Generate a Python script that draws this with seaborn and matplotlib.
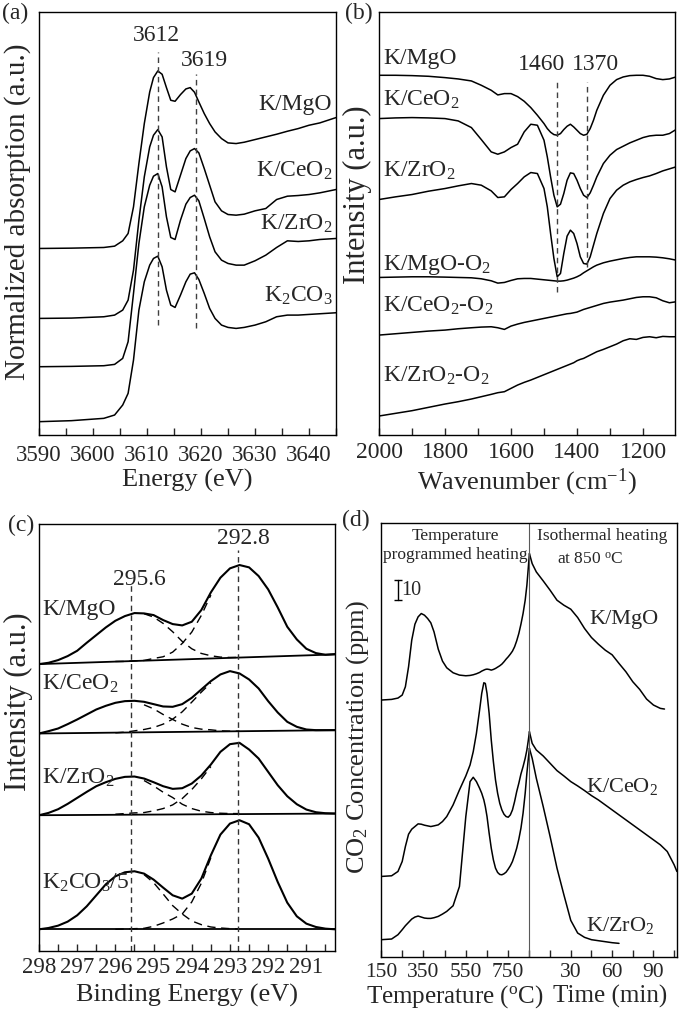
import matplotlib
matplotlib.use('Agg')
import matplotlib.pyplot as plt
import seaborn as sns
from matplotlib.ticker import MultipleLocator, FixedLocator, FixedFormatter

# ---------------- (a) K K-edge XANES ----------------
energy_a = [3590, 3596, 3602, 3604, 3605.5, 3606.5, 3607.5, 3608.5, 3609.5, 3610.5, 3611.2, 3612,
            3612.8, 3613.6, 3614.4, 3615.2, 3616.2, 3617.2, 3618, 3618.8, 3619.6, 3620.6, 3621.6, 3622.6,
            3623.8, 3625, 3626.5, 3628, 3630, 3632, 3634, 3636, 3638, 3640, 3642, 3645]
xanes_mgo = [560, 561, 563, 567, 583, 605, 685, 815, 935, 1030, 1073, 1093, 1083, 1043, 1005, 1002, 1022, 1039,
             1043, 1029, 1000, 965, 935, 910, 890, 877, 875, 879, 887, 895, 903, 912, 920, 930, 937, 953]
xanes_ceo2 = [350, 351, 355, 360, 375, 405, 495, 645, 775, 865, 900, 917, 895, 805, 737, 730, 780, 830,
              853, 860, 847, 800, 750, 700, 673, 662, 660, 663, 673, 680, 707, 717, 719, 722, 727, 737]
xanes_zro2 = [205, 206, 208, 212, 230, 280, 425, 575, 685, 750, 777, 785, 745, 655, 593, 587, 645, 693,
              713, 720, 703, 650, 595, 550, 525, 515, 510, 510, 523, 540, 563, 583, 581, 583, 587, 590]
xanes_k2co3 = [40, 43, 50, 60, 90, 125, 225, 375, 460, 510, 530, 537, 505, 435, 390, 383, 420, 460,
               483, 487, 467, 425, 380, 350, 330, 323, 320, 323, 330, 340, 355, 360, 360, 362, 364, 367]
peaks_a = [3612, 3619]

# ---------------- (b) DRIFTS ----------------
wavenumber_b = [2000, 1950, 1900, 1850, 1800, 1760, 1720, 1690, 1660, 1640, 1620, 1600, 1580, 1560, 1540,
                1520, 1500, 1490, 1480, 1470, 1460, 1450, 1440, 1430, 1420, 1410, 1400, 1390, 1380, 1370,
                1360, 1350, 1340, 1320, 1300, 1280, 1260, 1240, 1220, 1200, 1180, 1160, 1140, 1120, 1100]
ir_mgo = [1080, 1080, 1079, 1077, 1073, 1069, 1063, 1050, 1035, 1021, 1025, 1025, 1016, 1002, 983,
          960, 935, 920, 909, 902, 900, 905, 917, 927, 933, 925, 915, 905, 900, 903,
          920, 945, 975, 1020, 1050, 1067, 1075, 1079, 1080, 1080, 1077, 1070, 1067, 1069, 1075]
ir_ceo2 = [950, 952, 953, 952, 950, 943, 923, 887, 850, 843, 850, 863, 873, 910, 933,
           930, 885, 835, 775, 720, 685, 693, 725, 765, 787, 785, 765, 740, 720, 713,
           727, 750, 775, 815, 840, 857, 867, 877, 885, 893, 898, 900, 900, 905, 917]
ir_zro2 = [707, 715, 722, 732, 740, 748, 755, 750, 733, 713, 715, 737, 755, 775, 788,
           785, 740, 685, 605, 530, 475, 485, 545, 597, 615, 605, 575, 535, 515, 513,
           535, 570, 605, 665, 710, 735, 750, 760, 767, 773, 778, 785, 793, 799, 805]
ir_mgo_o2 = [473, 474, 475, 475, 474, 473, 472, 469, 463, 456, 458, 464, 469, 470, 470,
             468, 466, 465, 464, 463, 462, 462, 463, 465, 468, 471, 475, 480, 487, 493,
             499, 505, 510, 517, 522, 526, 530, 533, 535, 535, 535, 534, 532, 529, 525]
ir_ceo2_o2 = [300, 304, 308, 312, 315, 319, 322, 324, 325, 322, 317, 327, 333, 338, 342,
              346, 350, 352, 354, 356, 358, 360, 362, 364, 365, 367, 369, 373, 377, 380,
              383, 386, 389, 395, 399, 402, 405, 409, 413, 415, 415, 412, 403, 397, 400]
ir_zro2_o2 = [57, 65, 73, 83, 93, 100, 108, 115, 122, 127, 130, 140, 150, 158, 165,
              173, 181, 185, 189, 193, 197, 201, 205, 209, 213, 217, 223, 227, 230, 235,
              240, 245, 250, 257, 265, 273, 283, 289, 287, 293, 295, 292, 296, 295, 295]
peaks_b = [1460, 1370]

# ---------------- (c) C 1s / K 2p XPS ----------------
binding_c = [298, 297.75, 297.5, 297.25, 297, 296.75, 296.5, 296.25, 296, 295.75, 295.5, 295.25, 295, 294.75,
             294.5, 294.25, 294, 293.75, 293.5, 293.25, 293, 292.75, 292.5, 292.25, 292, 291.75, 291.5,
             291.25, 291, 290.75, 290.5, 290.25]
xps_mgo = [860, 864, 872, 884, 900, 924, 947, 970, 990, 1004, 1013, 1012, 1007, 992, 980, 976,
           987, 1022, 1075, 1119, 1147, 1157, 1150, 1124, 1084, 1030, 972, 934, 906, 893, 888, 890]
xps_ceo2 = [652, 659, 667, 680, 694, 709, 724, 735, 744, 749, 750, 747, 740, 733, 732, 740,
            759, 784, 809, 829, 839, 832, 814, 787, 749, 715, 687, 672, 664, 662, 662, 662]
xps_zro2 = [407, 414, 425, 441, 459, 477, 494, 506, 516, 522, 523, 517, 506, 494, 486, 488,
            502, 526, 559, 597, 620, 624, 604, 577, 537, 497, 464, 440, 424, 416, 413, 412]
xps_k2co3 = [65, 69, 76, 88, 107, 134, 167, 200, 224, 236, 239, 232, 214, 190, 167, 157,
             172, 217, 287, 349, 382, 392, 380, 340, 277, 207, 145, 104, 82, 72, 67, 65]
base_be = [298, 290.25]
base_mgo = [860, 889]
base_ceo2 = [652, 662]
base_zro2 = [407, 412]
base_k2co3 = [65, 65]
# fitted components: high-BE (a) and low-BE (b) peaks, drawn where they separate from the envelope
comp_a_be = [295.25, 295, 294.75, 294.5, 294.25, 294, 293.75, 293.5, 293.25, 293, 292.75]
comp_b_be = [296, 295.75, 295.5, 295.25, 295, 294.75, 294.5, 294.25, 294, 293.75, 293.5]
comp_a_mgo = [1011, 1001, 982, 957, 928, 906, 892, 885, 881, 880, 880]
comp_b_mgo = [868, 868, 870, 871, 877, 882, 896, 922, 956, 1006, 1067]
comp_a_ceo2 = [738, 726, 709, 694, 680, 670, 665, 663, 660, 659, 659]
comp_b_ceo2 = [654, 656, 660, 664, 670, 680, 695, 717, 746, 776, 804]
comp_a_zro2 = [511, 495, 476, 460, 440, 427, 419, 415, 413, 412, 412]
comp_b_zro2 = [410, 412, 414, 415, 420, 427, 438, 457, 484, 516, 553]
comp_a_k2co3 = [229, 205, 171, 136, 111, 90, 79, 72, 69, 67, 66]
comp_b_k2co3 = [65, 66, 67, 68, 74, 84, 96, 111, 147, 203, 280]
peaks_c = [295.6, 292.8]

# ---------------- (d) CO2 release ----------------
temp_d = [150, 200, 230, 250, 265, 280, 295, 310, 325, 340, 355, 370, 385, 400, 420, 440, 460, 490, 520, 550,
          570, 585, 600, 615, 625, 635, 642, 650, 660, 670, 680, 690, 700, 710, 720, 730, 740, 750, 760, 770,
          780, 790, 800, 810, 820, 830, 838, 845, 850]
tpd_mgo = [772, 774, 778, 787, 812, 872, 952, 1000, 1022, 1032, 1027, 1017, 1004, 977, 925, 889, 869, 854, 847, 845,
           846, 848, 851, 855, 859, 862, 864, 865, 864, 862, 864, 867, 871, 875, 880, 887, 895, 902, 910, 919,
           932, 950, 972, 1000, 1032, 1072, 1117, 1172, 1212]
tpd_ceo2 = [242, 244, 257, 287, 332, 369, 384, 392, 400, 399, 396, 394, 392, 394, 397, 407, 422, 457, 502, 544,
            577, 617, 672, 742, 792, 824, 822, 792, 732, 652, 587, 532, 492, 462, 442, 429, 422, 420, 427, 442,
            467, 497, 522, 550, 572, 597, 622, 652, 677]
tpd_zro2 = [52, 54, 67, 82, 94, 104, 114, 120, 123, 120, 117, 116, 116, 118, 122, 129, 137, 154, 212, 422,
            527, 540, 527, 507, 492, 472, 452, 422, 372, 327, 292, 267, 254, 248, 247, 250, 255, 264, 274, 287,
            306, 327, 354, 387, 432, 492, 552, 597, 627]
time_mgo = [0, 2, 5, 10, 15, 20, 25, 30, 35, 40, 45, 50, 55, 60, 65, 70, 75, 80, 85, 90, 95, 98]
iso_mgo = [1212, 1182, 1157, 1130, 1102, 1072, 1057, 1045, 1020, 987, 960, 940, 922, 908, 882, 857, 827, 804,
           775, 757, 747, 745]
time_ceo2 = [0, 2, 5, 10, 15, 20, 25, 30, 35, 40, 45, 50, 55, 60, 65, 70, 75, 80, 85, 90, 95, 100, 105, 107]
iso_ceo2 = [677, 642, 622, 604, 582, 560, 544, 527, 514, 500, 485, 472, 457, 442, 427, 412, 397, 382, 367, 352,
            337, 317, 277, 257]
time_zro2 = [0, 2, 5, 10, 15, 20, 25, 30, 35, 40, 45, 50, 55, 60, 65]
iso_zro2 = [627, 597, 537, 452, 362, 267, 187, 110, 72, 59, 52, 49, 46, 43, 41]
temp_ticks = [150, 250, 350, 450, 550, 650, 750, 850]
time_ticks = [15, 30, 45, 60, 75, 90, 105]
T_END = 850          # end of the ramp, start of the isothermal step
MIN_WIDTH = 6.5      # axis units per minute on the shared x axis


def t2x(t):
    return T_END + MIN_WIDTH * t


sns.set_style('ticks')
plt.rcParams['font.family'] = ['Liberation Serif', 'DejaVu Serif']
plt.rcParams['mathtext.fontset'] = 'custom'
plt.rcParams['mathtext.rm'] = 'Liberation Serif'
plt.rcParams['mathtext.it'] = 'Liberation Serif:italic'
plt.rcParams['mathtext.bf'] = 'Liberation Serif:bold'
plt.rcParams['axes.linewidth'] = 1.0

fig = plt.figure(figsize=(6.85, 10.16), dpi=100)
W, H = 685, 1016


def box(l, t, r, b):
    return [l / W, 1 - b / H, (r - l) / W, (b - t) / H]


def curve(ax, x, y, lw=1.1, **kw):
    sns.lineplot(x=x, y=y, ax=ax, color='black', linewidth=lw, estimator=None,
                 sort=False, legend=False, **kw)


def style(ax, tick_size, pad):
    ax.set_yticks([])
    ax.tick_params(axis='x', which='both', direction='in', length=5, width=1,
                   top=False, labelsize=tick_size, pad=pad)
    ax.set_xlabel('')
    ax.set_ylabel('')
    for s in ax.spines.values():
        s.set_visible(True)
        s.set_color('black')


DASH = (0, (4, 3))

# ---------- (a) ----------
ax = fig.add_axes(box(39, 12, 336, 435))
for ys in [xanes_mgo, xanes_ceo2, xanes_zro2, xanes_k2co3]:
    curve(ax, energy_a, ys)
ax.vlines(peaks_a[0], 330, 1150, colors='0.25', linestyles=DASH, lw=1)
ax.vlines(peaks_a[1], 320, 1085, colors='0.25', linestyles=DASH, lw=1)
ax.text(3611.7, 1183, '3612', ha='center', va='baseline', fontsize=17)
ax.text(3620.6, 1107, '3619', ha='center', va='baseline', fontsize=17)
for lab, yb in [('K/MgO', 975), ('K/CeO$_2$', 775), ('K/ZrO$_2$', 615), ('K$_2$CO$_3$', 400)]:
    ax.text(3644.3, yb, lab, ha='right', va='baseline', fontsize=17)
ax.set_xlim(3590, 3645)
ax.set_ylim(0, 1270)
ax.xaxis.set_major_locator(MultipleLocator(10))
ax.xaxis.set_minor_locator(MultipleLocator(5))
style(ax, 16.5, 7)
ax.text(0.5, -0.108, 'Energy (eV)', transform=ax.transAxes, ha='center', va='center', fontsize=19)
ax.text(-0.072, 0.527, 'Normalized absorption (a.u.)', transform=ax.transAxes, rotation=90,
        ha='center', va='center', fontsize=21)

# ---------- (b) ----------
ax = fig.add_axes(box(379, 12, 675, 435))
for ys in [ir_mgo, ir_ceo2, ir_zro2, ir_mgo_o2, ir_ceo2_o2, ir_zro2_o2]:
    curve(ax, wavenumber_b, ys)
ax.vlines(peaks_b[0], 430, 1060, colors='0.25', linestyles=DASH, lw=1)
ax.vlines(peaks_b[1], 505, 1060, colors='0.25', linestyles=DASH, lw=1)
ax.text(1507, 1095, '1460', ha='center', va='baseline', fontsize=17)
ax.text(1345, 1095, '1370', ha='center', va='baseline', fontsize=17)
for lab, yb in [('K/MgO', 1115), ('K/CeO$_2$', 990), ('K/ZrO$_2$', 775),
                ('K/MgO-O$_2$', 495), ('K/CeO$_2$-O$_2$', 370), ('K/ZrO$_2$-O$_2$', 160)]:
    ax.text(1987, yb, lab, ha='left', va='baseline', fontsize=17)
ax.set_xlim(2000, 1103)
ax.set_ylim(0, 1270)
ax.xaxis.set_major_locator(MultipleLocator(200))
ax.xaxis.set_minor_locator(MultipleLocator(100))
style(ax, 17, 5)
ax.text(0.5, -0.112, 'Wavenumber (cm$^{-1}$)', transform=ax.transAxes, ha='center', va='center', fontsize=19)
ax.text(-0.074, 0.567, 'Intensity (a.u.)', transform=ax.transAxes, rotation=90,
        ha='center', va='center', fontsize=22)

# ---------- (c) ----------
ax = fig.add_axes(box(39, 524, 335, 951))
for env, base, ca, cb in [(xps_mgo, base_mgo, comp_a_mgo, comp_b_mgo),
                          (xps_ceo2, base_ceo2, comp_a_ceo2, comp_b_ceo2),
                          (xps_zro2, base_zro2, comp_a_zro2, comp_b_zro2),
                          (xps_k2co3, base_k2co3, comp_a_k2co3, comp_b_k2co3)]:
    curve(ax, base_be, base, lw=1.3)
    curve(ax, comp_a_be, ca, lw=1.0)
    curve(ax, comp_b_be, cb, lw=1.0)
    curve(ax, binding_c, env, lw=1.5)
for ln in ax.lines[1::4] + ax.lines[2::4]:
    ln.set_linestyle((0, (6, 4)))
ax.vlines(peaks_c[0], 0, 1097, colors='0.2', linestyles=DASH, lw=1)
ax.vlines(peaks_c[1], 0, 1202, colors='0.2', linestyles=DASH, lw=1)
ax.text(295.38, 1097, '295.6', ha='center', va='baseline', fontsize=17)
ax.text(292.66, 1220, '292.8', ha='center', va='baseline', fontsize=17)
for lab, yb in [('K/MgO', 1007), ('K/CeO$_2$', 782), ('K/ZrO$_2$', 502), ('K$_2$CO$_3$/5', 187)]:
    ax.text(297.91, yb, lab, ha='left', va='baseline', fontsize=17)
ax.set_xlim(298, 290.25)
ax.set_ylim(0, 1280)
ax.xaxis.set_major_locator(MultipleLocator(1))
ax.xaxis.set_minor_locator(MultipleLocator(0.5))
style(ax, 16.5, 4)
ax.text(0.5, -0.104, 'Binding Energy (eV)', transform=ax.transAxes, ha='center', va='center', fontsize=19)
ax.text(-0.071, 0.583, 'Intensity (a.u.)', transform=ax.transAxes, rotation=90,
        ha='center', va='center', fontsize=22)

# ---------- (d) ----------
ax = fig.add_axes(box(381, 523, 677, 957))
for ys in [tpd_mgo, tpd_ceo2, tpd_zro2]:
    curve(ax, temp_d, ys)
for ts, ys in [(time_mgo, iso_mgo), (time_ceo2, iso_ceo2), (time_zro2, iso_zro2)]:
    curve(ax, [t2x(t) for t in ts], ys)
ax.axvline(T_END, color='0.35', lw=0.8)
ax.text(500, 1254, 'Temperature', ha='center', va='baseline', fontsize=12.5)
ax.text(500, 1197, 'programmed heating', ha='center', va='baseline', fontsize=12.5)
ax.text(1192, 1254, 'Isothermal heating', ha='center', va='baseline', fontsize=12.5)
ax.text(1137, 1182, 'at 850 $^{\\rm o}$C', ha='center', va='baseline', fontsize=12.5)
# 10 ppm scale bar
ax.plot([229, 229], [1074, 1132], color='black', lw=1, marker='_', markersize=6)
ax.text(245, 1087, '10', ha='left', va='baseline', fontsize=14.5)
for lab, xc, yb in [('K/MgO', 1295, 1002), ('K/CeO$_2$', 1287, 497), ('K/ZrO$_2$', 1279, 77)]:
    ax.text(xc, yb, lab, ha='center', va='baseline', fontsize=16)
ax.set_xlim(150, 1546)
ax.set_ylim(0, 1304)
ticks_d = temp_ticks + [t2x(t) for t in time_ticks]
labels_d = ['150', '', '350', '', '550', '', '750', '', '', '30', '', '60', '', '90', '']
ax.xaxis.set_major_locator(FixedLocator(ticks_d))
ax.xaxis.set_major_formatter(FixedFormatter(labels_d))
style(ax, 15.5, 4)
ax.text(500, -0.092, 'Temperature ($^{\\rm o}$C)', transform=ax.get_xaxis_transform(),
        ha='center', va='center', fontsize=18)
ax.text(1230, -0.092, 'Time (min)', transform=ax.get_xaxis_transform(),
        ha='center', va='center', fontsize=18)
ax.text(-0.08, 0.507, 'CO$_2$ Concentration (ppm)', transform=ax.transAxes, rotation=90,
        ha='center', va='center', fontsize=19)

# panel letters
for lab, x, y in [('(a)', 2, 3), ('(b)', 345, 3), ('(c)', 8, 515), ('(d)', 342, 510)]:
    fig.text(x / W, 1 - y / H, lab, ha='left', va='top', fontsize=17)

fig.savefig('out.png', dpi=100)
